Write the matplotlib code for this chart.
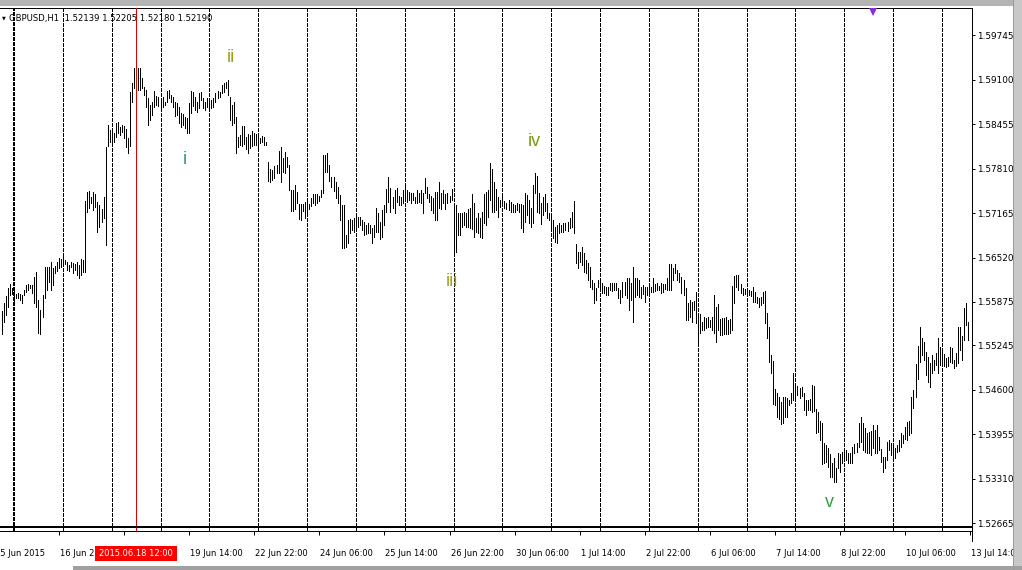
import numpy as np
import matplotlib
matplotlib.use("Agg")
import matplotlib.pyplot as plt
from matplotlib.patches import Rectangle

# ---------------- data (prices x 10 000, one entry per H1 bar) ----------------
symbol_header = "GBPUSD,H1  1.52139 1.52205 1.52180 1.52190"
crosshair_label = "2015.06.18 12:00"
crosshair_bar = 66

high = [
    15574, 15586, 15596, 15608, 15614, 15608, 15605, 15599, 15601, 15599,
    15598, 15605, 15612, 15614, 15612, 15612, 15624, 15631, 15590, 15576,
    15598, 15638, 15638, 15638, 15646, 15637, 15640, 15646, 15651, 15650,
    15653, 15648, 15646, 15641, 15646, 15644, 15643, 15646, 15641, 15650, 15648,
    15734, 15747, 15749, 15740, 15747, 15744, 15733, 15728, 15723, 15740,
    15813, 15844, 15837, 15837, 15833, 15847, 15849, 15842, 15844, 15843, 15839, 15826,
    15892, 15905, 15927, 15927, 15927, 15927, 15913, 15900, 15895, 15884,
    15873, 15878, 15894, 15887, 15885, 15884, 15885, 15878, 15894, 15895, 15888,
    15885, 15878, 15876, 15871, 15862, 15860, 15856, 15855, 15876, 15894,
    15892, 15885, 15878, 15891, 15892, 15884, 15878, 15884, 15878, 15881,
    15884, 15891, 15894, 15892, 15903, 15905, 15907, 15910, 15885, 15873,
    15878, 15856, 15827, 15830, 15843,
    15843, 15827, 15831, 15830, 15836, 15833, 15831, 15830, 15826, 15829,
    15827, 15820, 15791, 15781, 15779, 15785, 15786, 15807, 15813, 15797,
    15805, 15798, 15786, 15750, 15750, 15757, 15747, 15730, 15730, 15730,
    15733, 15733, 15730, 15738, 15744, 15744, 15744, 15741,
    15750, 15801, 15801, 15804, 15786, 15769, 15769, 15762, 15754, 15743,
    15728, 15728, 15685, 15707, 15708, 15707, 15709, 15711, 15711, 15711,
    15707, 15704, 15699, 15702, 15699, 15695, 15699, 15724, 15717, 15704,
    15721, 15728, 15752, 15769, 15753, 15740, 15750, 15753, 15741, 15740,
    15750, 15756, 15750, 15747, 15746, 15746, 15740, 15750, 15746,
    15750, 15746, 15768, 15754, 15744, 15741, 15738, 15747, 15747, 15762,
    15746, 15750, 15744, 15746, 15741, 15752, 15728, 15728, 15717, 15717,
    15717, 15718, 15717, 15723, 15724, 15744, 15731, 15709, 15717, 15709, 15718, 15744,
    15747, 15750, 15789, 15781, 15762, 15752, 15740, 15736, 15740, 15734,
    15731, 15736, 15733, 15730, 15728, 15731, 15730, 15730, 15728, 15746,
    15743, 15736, 15724, 15757, 15775, 15770, 15746, 15731, 15740, 15744,
    15731, 15717, 15714, 15707, 15696, 15699, 15702, 15699, 15702, 15702,
    15704, 15709, 15718, 15734, 15672, 15660, 15660, 15667, 15659, 15649,
    15644, 15638, 15619, 15615, 15608,
    15619, 15617, 15615, 15611, 15609, 15609, 15615, 15615, 15615, 15615,
    15608, 15605, 15617, 15617, 15622, 15622, 15615, 15638, 15622, 15622,
    15619, 15609, 15612, 15609, 15609, 15612, 15609, 15622, 15614, 15615,
    15611, 15615, 15614,
    15614, 15622, 15643, 15643, 15637, 15643, 15634, 15630, 15624, 15619,
    15608, 15586, 15590, 15588, 15589, 15602, 15570, 15570, 15558, 15566,
    15564, 15566, 15561, 15566, 15598, 15580, 15585, 15563,
    15564, 15564, 15566, 15561, 15563, 15611, 15625, 15627, 15627, 15614,
    15608, 15606, 15606, 15605, 15603, 15609, 15602, 15595, 15593, 15595,
    15602, 15603, 15571, 15551, 15511, 15502, 15461, 15455, 15450, 15442,
    15450, 15450, 15448, 15445, 15455, 15484, 15468, 15466, 15463, 15464,
    15455, 15445,
    15445, 15447, 15467, 15466, 15432, 15428, 15415, 15412, 15383, 15380,
    15376, 15367, 15354, 15361, 15346, 15368, 15367, 15370, 15374, 15373,
    15368, 15368, 15377, 15381, 15383, 15412, 15420, 15412, 15405, 15397,
    15399, 15400, 15409, 15402, 15409, 15391, 15374, 15362, 15362, 15384,
    15387, 15383, 15377,
    15376, 15380, 15387, 15397, 15394, 15406, 15413, 15415, 15450, 15460,
    15497, 15524, 15551, 15535, 15529, 15515, 15508, 15499, 15511, 15503,
    15513, 15535, 15522, 15516, 15512, 15506, 15508, 15522, 15521, 15503,
    15513, 15551, 15551, 15538, 15579, 15586, 15558,
]

low = [
    15541, 15558, 15569, 15580, 15598, 15599, 15588, 15593, 15593, 15590,
    15586, 15598, 15602, 15605, 15608, 15601, 15586, 15580, 15542, 15541,
    15566, 15593, 15605, 15617, 15605, 15612, 15630, 15632, 15637, 15638,
    15644, 15643, 15634, 15632, 15638, 15630, 15634, 15627, 15622, 15627, 15631,
    15631, 15718, 15724, 15731, 15721, 15725, 15689, 15696, 15704, 15709,
    15670, 15814, 15820, 15815, 15820, 15827, 15833, 15830, 15834, 15826, 15813, 15804,
    15814, 15878, 15898, 15900, 15895, 15895, 15898, 15888, 15871, 15844,
    15852, 15859, 15871, 15874, 15872, 15869, 15871, 15874, 15878, 15884, 15878,
    15871, 15858, 15859, 15847, 15842, 15845, 15840, 15833, 15833, 15862,
    15872, 15866, 15863, 15869, 15881, 15869, 15866, 15871, 15866, 15869,
    15871, 15878, 15884, 15885, 15891, 15892, 15898, 15888, 15852, 15844,
    15847, 15804, 15813, 15815, 15814,
    15817, 15810, 15804, 15811, 15814, 15815, 15815, 15813, 15818, 15820,
    15815, 15815, 15763, 15762, 15765, 15768, 15774, 15775, 15762, 15776,
    15775, 15783, 15750, 15720, 15720, 15723, 15731, 15708, 15707, 15720,
    15709, 15717, 15723, 15727, 15731, 15728, 15731, 15734,
    15740, 15746, 15776, 15776, 15763, 15754, 15749, 15738, 15731, 15707,
    15666, 15666, 15667, 15673, 15688, 15692, 15689, 15696, 15696, 15699,
    15692, 15685, 15686, 15688, 15688, 15673, 15682, 15689, 15689, 15679,
    15682, 15699, 15718, 15733, 15718, 15724, 15717, 15733, 15728, 15728,
    15731, 15740, 15733, 15736, 15731, 15736, 15731, 15731, 15733,
    15731, 15717, 15746, 15738, 15733, 15721, 15717, 15707, 15707, 15724,
    15723, 15731, 15723, 15731, 15733, 15736, 15659, 15660, 15685, 15685,
    15696, 15699, 15696, 15696, 15695, 15693, 15682, 15689, 15688, 15682, 15680, 15702,
    15699, 15711, 15736, 15718, 15718, 15721, 15711, 15725, 15728, 15724,
    15722, 15721, 15718, 15718, 15718, 15721, 15718, 15695, 15689, 15704,
    15714, 15702, 15696, 15702, 15746, 15718, 15717, 15701, 15714, 15720,
    15709, 15707, 15695, 15680, 15675, 15673, 15688, 15689, 15689, 15692,
    15691, 15695, 15696, 15688, 15644, 15637, 15646, 15641, 15631, 15630,
    15619, 15609, 15606, 15586, 15590,
    15609, 15608, 15601, 15601, 15598, 15598, 15605, 15603, 15605, 15605,
    15593, 15586, 15595, 15598, 15593, 15576, 15590, 15558, 15595, 15598,
    15595, 15593, 15599, 15588, 15598, 15599, 15602, 15602, 15603, 15605,
    15605, 15601, 15602,
    15606, 15605, 15605, 15605, 15619, 15630, 15619, 15617, 15601, 15598,
    15561, 15561, 15566, 15558, 15576, 15557, 15528, 15542, 15547, 15547,
    15550, 15551, 15551, 15547, 15542, 15529, 15547, 15540,
    15540, 15541, 15541, 15541, 15542, 15547, 15586, 15609, 15605, 15601,
    15598, 15599, 15598, 15598, 15596, 15588, 15588, 15586, 15580, 15583,
    15586, 15557, 15535, 15500, 15484, 15439, 15438, 15421, 15418, 15410,
    15412, 15421, 15421, 15438, 15441, 15445, 15445, 15452, 15448, 15451,
    15431, 15423,
    15431, 15431, 15428, 15429, 15397, 15399, 15387, 15352, 15354, 15355,
    15348, 15333, 15333, 15326, 15326, 15346, 15341, 15354, 15357, 15358,
    15354, 15354, 15354, 15368, 15370, 15377, 15384, 15373, 15370, 15368,
    15368, 15365, 15376, 15368, 15368, 15373, 15355, 15341, 15346, 15358,
    15373, 15365, 15362,
    15361, 15370, 15371, 15377, 15383, 15389, 15387, 15394, 15397, 15434,
    15450, 15476, 15500, 15511, 15503, 15481, 15471, 15464, 15484, 15489,
    15496, 15484, 15496, 15497, 15495, 15493, 15495, 15500, 15499, 15492,
    15495, 15499, 15518, 15503, 15532, 15554, 15532,
]

price_ticks = [1.59745, 1.59100, 1.58455, 1.57810, 1.57165, 1.56520,
               1.55875, 1.55245, 1.54600, 1.53955, 1.53310, 1.52665]

time_tick_bars = [-4, 28, 60, 92, 124, 156, 188, 220, 252, 284, 316, 348,
                  380, 412, 444, 476]
time_tick_labels = ["15 Jun 2015", "16 Jun 22:00", "18 Jun 06:00", "19 Jun 14:00",
                    "22 Jun 22:00", "24 Jun 06:00", "25 Jun 14:00", "26 Jun 22:00",
                    "30 Jun 06:00", "1 Jul 14:00", "2 Jul 22:00", "6 Jul 06:00",
                    "7 Jul 14:00", "8 Jul 22:00", "10 Jul 06:00", "13 Jul 14:00"]

# first bar of each trading day (period separators)
day_start_bars = [6, 30, 54, 78, 102, 126, 150, 174, 198, 222,
                  246, 270, 294, 318, 342, 366, 390, 414, 438, 462]

wave_labels = ["i", "ii", "iii", "iv", "v"]
wave_bars = [90, 112.6, 221.2, 261.5, 406.5]
wave_prices = [1.5794, 1.5943, 1.5617, 1.5821, 1.5297]
wave_colors = ["#23a060", "#9aa012", "#9ea024", "#7a9a12", "#2fa040"]

# ---------------- layout ----------------
W, H, DPI = 1022, 570, 100
PX0, PXB = 1.8, 2.035        # pixel x of bar 0, pixels per bar
AX_L, AX_R, AX_T, AX_B = 0.0, 971.5, 8.0, 531.0

def fx(x):
    return x / W

def fy(y):
    return 1 - y / H

hi = np.array(high) / 10000.0
lo = np.array(low) / 10000.0
n = len(hi)
assert n == len(lo)
idx = np.arange(n)

fig = plt.figure(figsize=(W / DPI, H / DPI), dpi=DPI)
fig.patch.set_facecolor("white")
ax = fig.add_axes([fx(AX_L), fy(AX_B), (AX_R - AX_L) / W, (AX_B - AX_T) / H])
ax.set_facecolor("white")
ax.set_xlim((AX_L - PX0) / PXB, (AX_R - PX0) / PXB)
ax.set_ylim(1.52549, 1.60143)

px = 0.72  # one pixel in points

# period separators
for k, b in enumerate(day_start_bars):
    if k == 0:
        ax.axvline(b, color="black", lw=2 * px, linestyle=(0, (2, 1)),
                   antialiased=False, zorder=1)
    else:
        ax.axvline(b, color="black", lw=px, linestyle=(0, (4, 2)),
                   antialiased=False, zorder=1)

# crosshair
ax.axvline(crosshair_bar, color="#e00000", lw=px, antialiased=False, zorder=3)

# bars
ax.vlines(idx, lo, hi, colors="black", linewidth=px, antialiased=False, zorder=2)

# bottom thick line of main window
f = (AX_B - 527) / (AX_B - AX_T)
ax.plot([0, 1], [f, f], transform=ax.transAxes, color="black", lw=2 * px,
        solid_capstyle="butt", clip_on=False, zorder=4)

# wave labels
for s, b, p, c in zip(wave_labels, wave_bars, wave_prices, wave_colors):
    ax.text(b, p, s, color=c, fontsize=13, ha="center", va="center",
            family="Liberation Sans", zorder=5)

# purple arrow marker near the top
ax.plot([428], [1.6009], marker="v", markersize=6, color="#8a2be2",
        markeredgewidth=0, clip_on=False, zorder=6)

# spines
for side in ["top", "right", "bottom"]:
    ax.spines[side].set_linewidth(px)
    ax.spines[side].set_color("black")
ax.spines["left"].set_visible(False)

# y axis on the right
ax.yaxis.tick_right()
ax.set_yticks(price_ticks)
ax.set_yticklabels([f"{p:.5f}" for p in price_ticks])
ax.tick_params(axis="y", direction="out", length=2.2, width=px, pad=1.6,
               labelsize=6.4, colors="black", left=False)

# x axis ticks (labels drawn manually)
vis = [b for b in time_tick_bars if (AX_L - PX0) / PXB <= b <= (AX_R - PX0) / PXB]
ax.set_xticks(vis)
ax.set_xticklabels([""] * len(vis))
ax.tick_params(axis="x", direction="out", length=2.8, width=px, pad=0)

cross_x = PX0 + crosshair_bar * PXB
box_l, box_r = cross_x - 41, cross_x + 41
clip_rect = Rectangle((0, 0), fx(box_l), 1, transform=fig.transFigure)
for b, s in zip(time_tick_bars, time_tick_labels):
    x = PX0 + b * PXB + 1
    if box_l <= x <= box_r:
        continue
    t = fig.text(fx(x), fy(553), s, fontsize=6.0, ha="left", va="center",
                 color="black", zorder=2)
    if x < box_l:
        t.set_clip_path(clip_rect)

# crosshair time box
fig.patches.append(Rectangle((fx(box_l), fy(561)), (box_r - box_l) / W, 15 / H,
                             transform=fig.transFigure, facecolor="#ff0000",
                             edgecolor="none", zorder=5))
fig.text(fx(cross_x), fy(553.5), crosshair_label, fontsize=6.0, ha="center",
         va="center", color="white", zorder=6)

# right border continuation under the time scale
fig.lines.append(plt.Line2D([fx(AX_R), fx(AX_R)], [fy(AX_B), fy(541)],
                            transform=fig.transFigure, color="black", lw=px))

# header
fig.text(fx(1.5), fy(18), "\u25bc", fontsize=3.5, ha="left", va="center", color="black")
fig.text(fx(9), fy(18), symbol_header, fontsize=6.1, ha="left", va="center",
         color="black")

# window chrome
fig.patches.append(Rectangle((0, fy(6)), 1, 6 / H, transform=fig.transFigure,
                             facecolor="#b4b4b4", edgecolor="none", zorder=8))
fig.patches.append(Rectangle((fx(1013), 0), 9 / W, 1, transform=fig.transFigure,
                             facecolor="#c8c8c8", edgecolor="none", zorder=8))
fig.lines.append(plt.Line2D([fx(1013), fx(1013)], [0, 1], transform=fig.transFigure,
                            color="#9a9a9a", lw=px, zorder=9))
fig.patches.append(Rectangle((fx(73), 0), (1022 - 73) / W, 4 / H,
                             transform=fig.transFigure, facecolor="#a0a0a0",
                             edgecolor="none", zorder=8))

fig.savefig("out.png", dpi=DPI)
